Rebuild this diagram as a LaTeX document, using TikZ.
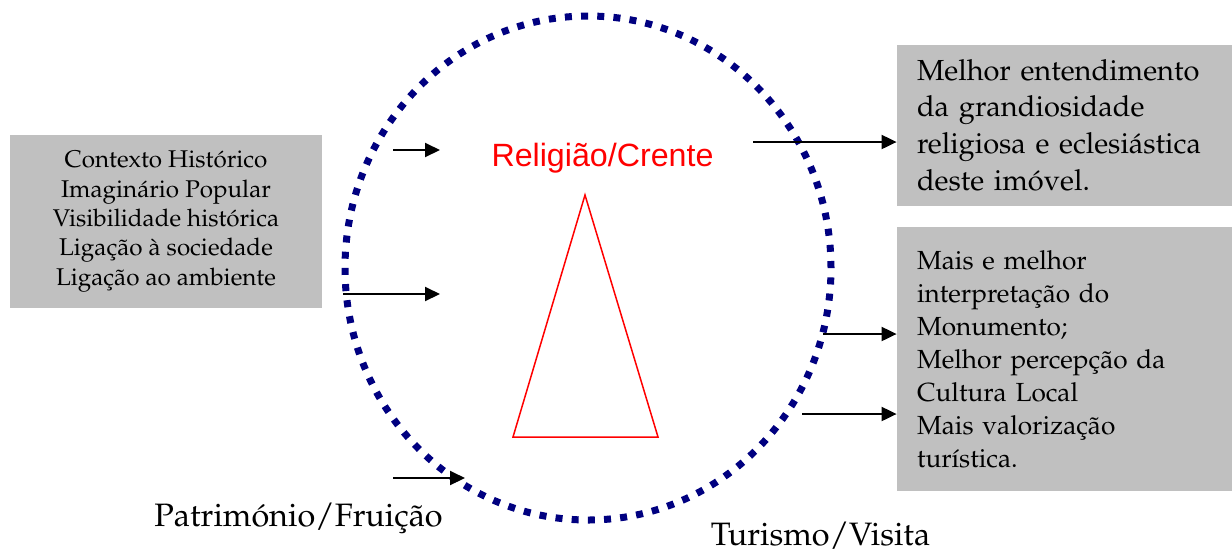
\documentclass[tikz,border=0pt]{standalone}
\usepackage{fontspec}
\newfontfamily\arialfont{Liberation Sans}
\usepackage[T1]{fontenc}
\usepackage{mathpazo}
\usepackage{tikz}
\usetikzlibrary{arrows.meta}
\definecolor{ringcolor}{HTML}{000080}
\definecolor{boxcolor}{HTML}{C0C0C0}
\definecolor{crentecolor}{HTML}{FF0000}
\tikzset{
  ring line/.style={ringcolor,line width=3.5pt,dash pattern=on 3.5pt off 4.6pt},
  info box/.style={fill=boxcolor,inner sep=0pt},
  link arrow/.style={black,line width=1pt,-{Triangle[length=7.5pt,width=7pt]}},
  tip label/.style={font=\fontsize{16.2}{19}\selectfont,inner sep=0pt,anchor=base}
}
\begin{document}
\begin{tikzpicture}[x=0.5pt,y=-0.5pt]
  \useasboundingbox (0,0) rectangle (1232,553);
  % dotted ring and triangle
  \draw[ring line] (588,268) ellipse [x radius=121.5pt,y radius=126pt];
  \draw[crentecolor,line width=0.75pt] (585,195)--(658,437)--(513,437)--cycle;
  \node[font=\arialfont\fontsize{16.1}{18}\selectfont,text=crentecolor,inner sep=0pt,anchor=base] (crente) at (602.5,166) {Religião/Crente};
  % boxes
  \node[info box,minimum width=156pt,minimum height=86.5pt,align=center,
        font=\fontsize{12.1}{14.7}\selectfont] (context) at (166,221.5)
    {Contexto Histórico\\Imaginário Popular\\Visibilidade histórica\\Ligação à sociedade\\Ligação ao ambiente};
  \node[info box,minimum width=167.5pt,minimum height=80.5pt,text width=147.5pt,inner xsep=10pt,align=left,
        font=\fontsize{14.5}{18.3}\selectfont] (grand) at (1064.5,125)
    {Melhor entendimento\\da grandiosidade\\religiosa e eclesiástica\\deste imóvel.};
  \node[info box,minimum width=167.5pt,minimum height=132pt,text width=147.5pt,inner xsep=10pt,align=left,
        font=\fontsize{13.1}{16.5}\selectfont] (visit) at (1064.5,359)
    {Mais e melhor\\interpretação do\\Monumento;\\Melhor percepção da\\Cultura Local\\Mais valorização\\turística.};
  \node[tip label] (patri) at (298.5,526.7) {Património/Fruição};
  \node[tip label] (turis) at (820.5,545) {Turismo/Visita};
  % arrows
  \coordinate (inA) at (393,150); \coordinate (inAend) at (440,150);
  \coordinate (inB) at (343,294); \coordinate (inBend) at (440,294);
  \coordinate (inC) at (393,478); \coordinate (inCend) at (465,478);
  \coordinate (outA) at (753,142);
  \coordinate (outB) at (823,334);
  \coordinate (outC) at (802,414);
  \draw[link arrow] (inA)--(inAend);
  \draw[link arrow] (inB)--(inBend);
  \draw[link arrow] (inC)--(inCend);
  \draw[link arrow] (outA)--(outA-|grand.west);
  \draw[link arrow] (outB)--(outB-|visit.west);
  \draw[link arrow] (outC)--(outC-|visit.west);
\end{tikzpicture}
\end{document}
